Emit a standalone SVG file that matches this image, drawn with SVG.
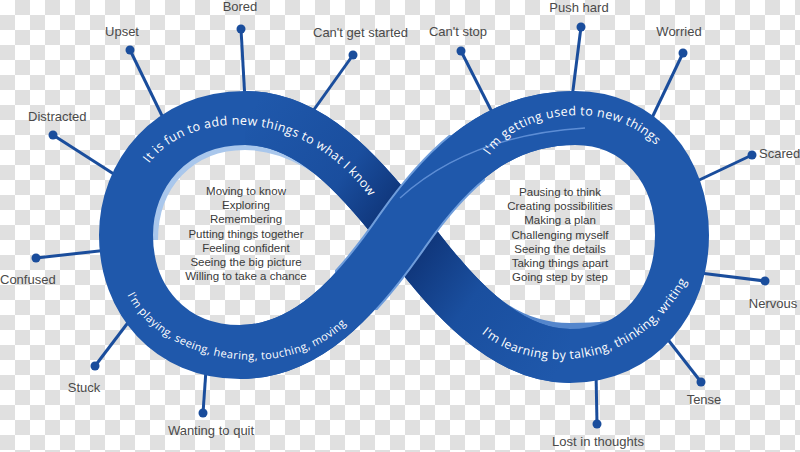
<svg xmlns="http://www.w3.org/2000/svg" width="800" height="452" viewBox="0 0 800 452">
<style>
.lbl{font-family:"Liberation Sans",Arial,sans-serif;font-size:13px;fill:#4a4a4a}
.lst{font-family:"Liberation Sans",Arial,sans-serif;font-size:11.5px;fill:#3a3a3a;text-anchor:middle}
.band{font-family:"Open Sans","Liberation Sans",sans-serif;fill:#ffffff;letter-spacing:0.4px}
.spoke{stroke:#1a4d9c;stroke-width:3;fill:none}
.dot{fill:#1a4d9c}
.mid{text-anchor:middle}
</style>
<defs>
<pattern id="checker" width="30" height="30" patternUnits="userSpaceOnUse">
<rect width="30" height="30" fill="#ffffff"/>
<rect x="15" y="0" width="15" height="15" fill="#e0e0e0"/>
<rect x="0" y="15" width="15" height="15" fill="#e0e0e0"/>
</pattern>
<linearGradient id="backDark" gradientUnits="userSpaceOnUse" x1="245" y1="118" x2="570" y2="356">
<stop offset="0" stop-color="#1f58ab"/>
<stop offset="0.28" stop-color="#1a4e9e"/>
<stop offset="0.42" stop-color="#10377c"/>
<stop offset="0.55" stop-color="#10377c"/>
<stop offset="0.72" stop-color="#1a4f9f"/>
<stop offset="1" stop-color="#1f58ab"/>
</linearGradient>
<clipPath id="xclip"><rect x="335" y="135" width="150" height="175"/></clipPath>
<path id="tp1" d="M 148,165 C 185,112 300,100 372,200 L 385,220"/>
<path id="tp2" d="M 488,158 C 520,105 620,100 660,150 L 670,165"/>
<path id="tp3" d="M 126,292 C 160,365 290,385 348,322 L 360,305"/>
<path id="tp4" d="M 480,332 C 530,375 640,375 690,275 L 696,258"/>
</defs>
<rect width="800" height="452" fill="url(#checker)"/>
<g id="connectors">
<line class="spoke" x1="130" y1="50" x2="168" y2="128"/>
<line class="spoke" x1="241" y1="29" x2="245" y2="100"/>
<line class="spoke" x1="353" y1="55" x2="308" y2="118"/>
<line class="spoke" x1="53" y1="135" x2="120" y2="178"/>
<line class="spoke" x1="36" y1="258" x2="108" y2="250"/>
<line class="spoke" x1="95" y1="366" x2="133" y2="316"/>
<line class="spoke" x1="203" y1="413" x2="206" y2="370"/>
<line class="spoke" x1="461" y1="51" x2="495" y2="118"/>
<line class="spoke" x1="581" y1="27" x2="572" y2="98"/>
<line class="spoke" x1="683" y1="53" x2="650" y2="122"/>
<line class="spoke" x1="752" y1="155" x2="695" y2="182"/>
<line class="spoke" x1="765" y1="281" x2="700" y2="273"/>
<line class="spoke" x1="701" y1="382" x2="662" y2="332"/>
<line class="spoke" x1="597" y1="424" x2="596" y2="372"/>
</g>
<g id="infinity">
<path d="M 153,240 C 153,185 190,145 245,145 C 285,145 330,170 360,212" fill="none" stroke="#a9c7ec" stroke-width="10"/>
<path d="M 645,318 C 620,328 595,329 570,329 C 520,329 485,300 455,262" fill="none" stroke="#5486cc" stroke-width="12"/>
<path d="M 403,230 C 450,163 500,118 575,118 C 640,118 682,170 682,235 C 682,300 640,356 570,356 C 505,356 450,295 403,230 C 360,175 310,118 245,118 C 170,118 126,175 126,235 C 126,300 170,352 240,352 C 305,352 355,300 403,230 Z" fill="none" stroke="#1f58ab" stroke-width="54"/>
<path d="M 570,356 C 505,356 450,295 403,230 C 360,175 310,118 245,118" fill="none" stroke="url(#backDark)" stroke-width="54"/>
<path d="M 240,352 C 305,352 355,300 403,230 C 450,163 500,118 575,118" fill="none" stroke="#6f9ddb" stroke-width="58" clip-path="url(#xclip)"/>
<path d="M 240,352 C 305,352 355,300 403,230 C 450,163 500,118 575,118" fill="none" stroke="#1f58ab" stroke-width="54"/>
<path d="M 400,198 C 445,157 505,133 585,128" fill="none" stroke="#6d9be0" stroke-width="1.3" opacity="0.8"/>
</g>
<g id="band-texts">
<text class="band" font-size="12.5"><textPath href="#tp1" startOffset="2">It is fun to add  new things to what I know</textPath></text>
<text class="band" font-size="12.5"><textPath href="#tp2" startOffset="3">I'm getting used to new things</textPath></text>
<text class="band" font-size="11"><textPath href="#tp3" startOffset="3">I'm playing, seeing, hearing, touching, moving</textPath></text>
<text class="band" font-size="12.3"><textPath href="#tp4" startOffset="2">I'm learning by talking, thinking, writing</textPath></text>
</g>
<g id="upset"><circle class="dot" cx="130" cy="50" r="4.5"/><text class="lbl mid" x="122" y="36">Upset</text></g>
<g id="bored"><circle class="dot" cx="241" cy="29" r="4.5"/><text class="lbl mid" x="240" y="10.5">Bored</text></g>
<g id="cant-get-started"><circle class="dot" cx="353" cy="55" r="4.5"/><text class="lbl" x="313" y="37">Can't get started</text></g>
<g id="distracted"><circle class="dot" cx="53" cy="135" r="4.5"/><text class="lbl" x="28" y="121">Distracted</text></g>
<g id="confused"><circle class="dot" cx="36" cy="258" r="4.5"/><text class="lbl" x="0" y="284">Confused</text></g>
<g id="stuck"><circle class="dot" cx="95" cy="366" r="4.5"/><text class="lbl mid" x="84" y="392">Stuck</text></g>
<g id="wanting-to-quit"><circle class="dot" cx="203" cy="413" r="4.5"/><text class="lbl mid" x="211" y="435">Wanting to quit</text></g>
<g id="cant-stop"><circle class="dot" cx="461" cy="51" r="4.5"/><text class="lbl mid" x="458" y="36">Can't stop</text></g>
<g id="push-hard"><circle class="dot" cx="581" cy="27" r="4.5"/><text class="lbl mid" x="579" y="12">Push hard</text></g>
<g id="worried"><circle class="dot" cx="683" cy="53" r="4.5"/><text class="lbl mid" x="679" y="36">Worried</text></g>
<g id="scared"><circle class="dot" cx="752" cy="155" r="4.5"/><text class="lbl" x="759" y="158">Scared</text></g>
<g id="nervous"><circle class="dot" cx="765" cy="281" r="4.5"/><text class="lbl mid" x="773" y="308">Nervous</text></g>
<g id="tense"><circle class="dot" cx="701" cy="382" r="4.5"/><text class="lbl mid" x="704" y="404">Tense</text></g>
<g id="lost-in-thoughts"><circle class="dot" cx="597" cy="424" r="4.5"/><text class="lbl mid" x="598" y="446">Lost in thoughts</text></g>
<g id="left-list">
<text class="lst" x="246" y="195">Moving to know</text>
<text class="lst" x="246" y="209.2">Exploring</text>
<text class="lst" x="246" y="223.4">Remembering</text>
<text class="lst" x="246" y="237.6">Putting things together</text>
<text class="lst" x="246" y="251.8">Feeling confident</text>
<text class="lst" x="246" y="266">Seeing the big picture</text>
<text class="lst" x="246" y="280.2">Willing to take a chance</text>
</g>
<g id="right-list">
<text class="lst" x="560" y="196">Pausing to think</text>
<text class="lst" x="560" y="210.2">Creating possibilities</text>
<text class="lst" x="560" y="224.4">Making a plan</text>
<text class="lst" x="560" y="238.6">Challenging myself</text>
<text class="lst" x="560" y="252.8">Seeing the details</text>
<text class="lst" x="560" y="267">Taking things apart</text>
<text class="lst" x="560" y="281.2">Going step by step</text>
</g>
</svg>
